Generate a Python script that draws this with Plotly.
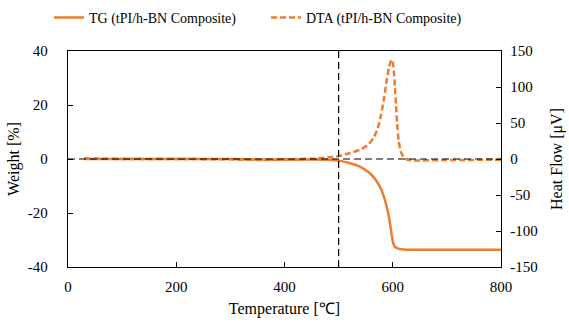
import plotly.graph_objects as go

# ---- data ----
tg_temp = [30, 100, 200, 300, 380, 450, 480, 500, 520, 540, 555, 565, 575, 582, 588,
           592, 595, 598, 600, 602, 605, 610, 620, 640, 700, 800]
tg_weight = [0, 0, 0, 0, -0.3, -0.2, -0.3, -0.6, -1.5, -2.9, -4.8, -6.8, -9.8, -13, -17,
             -20.5, -24, -28, -30.5, -31.8, -32.7, -33.2, -33.5, -33.6, -33.6, -33.6]

dta_temp = [30, 100, 200, 300, 370, 400, 450, 480, 500, 520, 540, 555, 565, 572, 578, 584,
            589, 593, 596, 598, 600, 602, 604, 606, 608, 611, 615, 620, 628, 640, 700, 800]
dta_heat = [1, 0, 0, -0.5, -1.5, -0.5, 0.5, 2, 4, 8, 13, 20, 30, 42, 60, 85,
            110, 127, 135, 138, 135, 122, 100, 75, 50, 25, 10, 3, -1, -2, -1.5, -1]

onset_temp = 500
zero_level = 0

x_ticks = [0, 200, 400, 600, 800]
y1_ticks = [-40, -20, 0, 20, 40]
y2_ticks = [-150, -100, -50, 0, 50, 100, 150]

ORANGE = "#ED7D31"
FONT = "Liberation Serif"

fig = go.Figure()
fig.add_trace(go.Scatter(x=tg_temp, y=tg_weight, mode="lines", name="TG (tPI/h-BN Composite)",
                         line=dict(color=ORANGE, width=2.5, shape="spline", smoothing=0.6)))
fig.add_trace(go.Scatter(x=dta_temp, y=dta_heat, mode="lines", name="DTA (tPI/h-BN Composite)",
                         yaxis="y2",
                         line=dict(color=ORANGE, width=2.5, dash="6px,3px", shape="spline", smoothing=0.6)))

fig.add_vline(x=onset_temp, line=dict(color="black", width=1.2, dash="7px,4px"))
fig.add_hline(y=zero_level, line=dict(color="black", width=1.2, dash="7px,4px"))

axis_common = dict(showgrid=False, zeroline=False, showline=True, linecolor="black", linewidth=1.3,
                   ticks="inside", ticklen=5, tickcolor="black", automargin=False,
                   tickfont=dict(family=FONT, size=15, color="black"))

fig.update_layout(
    width=569, height=325,
    margin=dict(l=68, r=68, t=51, b=58),
    paper_bgcolor="white", plot_bgcolor="white",
    font=dict(family=FONT, size=15, color="black"),
    showlegend=True,
    legend=dict(orientation="h", xref="container", yref="container",
                x=266 / 569, xanchor="center", y=0.945, yanchor="middle",
                font=dict(family=FONT, size=14, color="black"), itemwidth=30,
                entrywidth=172, entrywidthmode="pixels",
                bgcolor="rgba(0,0,0,0)"),
    xaxis=dict(range=[0, 800], tickvals=x_ticks, ticktext=[str(v) for v in x_ticks], mirror=True,
               ticklabelstandoff=6,
               title=dict(text="Temperature [℃]", font=dict(family=FONT, size=16), standoff=8),
               **axis_common),
    yaxis=dict(range=[-40, 40], tickvals=y1_ticks, ticktext=[str(v) for v in y1_ticks],
               ticklabelstandoff=16,
               title=dict(text="Weight [%]", font=dict(family=FONT, size=16), standoff=4),
               **axis_common),
    yaxis2=dict(range=[-150, 150], tickvals=y2_ticks, ticktext=[str(v) for v in y2_ticks],
                overlaying="y", side="right", ticklabelstandoff=5,
                title=dict(text="Heat Flow [μV]", font=dict(family=FONT, size=16), standoff=14),
                **axis_common),
)

fig.write_html("out.html", config={"displayModeBar": False},
               post_script="document.body.style.margin='0';")
